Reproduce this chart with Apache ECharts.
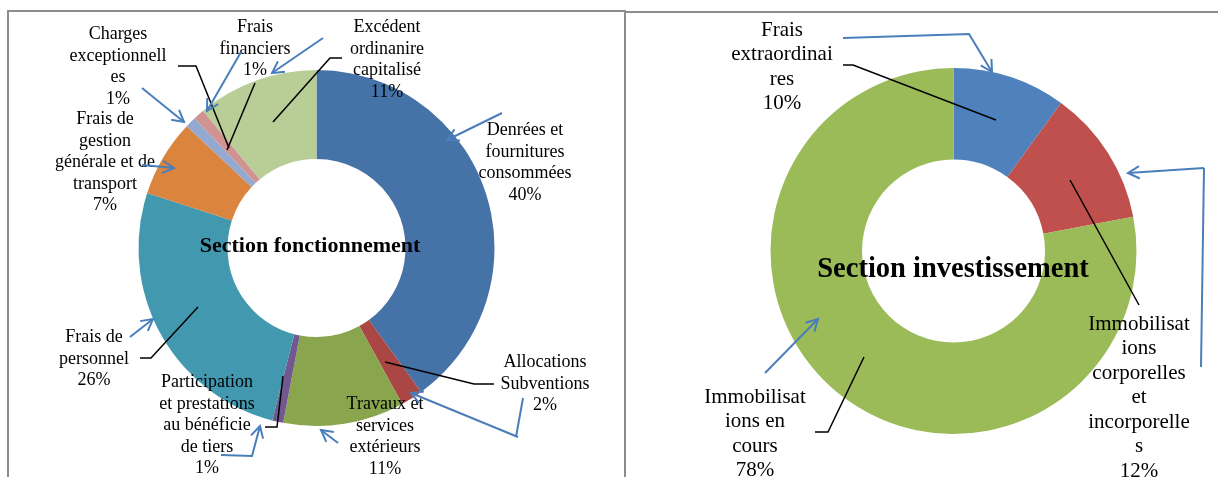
<!DOCTYPE html>
<html>
<head>
<meta charset="utf-8">
<script src="https://cdn.jsdelivr.net/npm/echarts@6/dist/echarts.min.js"></script>
<style>
  html, body { margin: 0; padding: 0; background: #fff; }
  #chart { width: 1218px; height: 477px; }
</style>
</head>
<body>
<div id="chart"></div>
<script>
// section fonctionnement (clockwise from 12 o'clock)
const fonctNames = ['Denrées et fournitures consommées', 'Allocations Subventions', 'Travaux et services extérieurs',
  'Participation et prestations au bénéficie de tiers', 'Frais de personnel',
  'Frais de gestion générale et de transport', 'Charges exceptionnelles', 'Frais financiers',
  'Excédent ordinanire capitalisé']
const fonctValues = [40, 2, 11, 1, 26, 7, 1, 1, 11]
// label text as wrapped in the original
const fonctLabels = ['Denrées et\nfournitures\nconsommées', 'Allocations\nSubventions', 'Travaux et\nservices\nextérieurs',
  'Participation\net prestations\nau bénéficie\nde tiers', 'Frais de\npersonnel',
  'Frais de\ngestion\ngénérale et de\ntransport', 'Charges\nexceptionnell\nes', 'Frais\nfinanciers',
  'Excédent\nordinanire\ncapitalisé']

// section investissement
const investNames = ['Frais extraordinaires', 'Immobilisations corporelles et incorporelles', 'Immobilisations en cours']
const investValues = [10, 12, 78]
const investLabels = ['Frais\nextraordinai\nres', 'Immobilisat\nions\ncorporelles\net\nincorporelle\ns', 'Immobilisat\nions en\ncours']

const fonctColors = ['#4572A7', '#AA4643', '#89A54E', '#71588F', '#4198AF', '#DB843D', '#93A9CF', '#D19392', '#B9CD96']
const investColors = ['#4F81BD', '#C0504D', '#9BBB59']

// where each label block sits (center x, top y)
const fonctLabelPos = [[525, 120], [545, 352], [385, 394], [207, 372], [94, 327], [105, 109], [118, 24], [255, 17], [387, 17]]
const investLabelPos = [[782, 18], [1139, 312], [755, 385]]

// black leader lines
const leaderLines = [
  [[178, 66], [196, 66], [229, 148]],
  [[255, 83], [227, 150]],
  [[342, 58], [330, 58], [273, 122]],
  [[140, 358], [151, 358], [198, 307]],
  [[265, 427], [277, 427], [283, 376]],
  [[494, 384], [474, 384], [385, 362]],
  [[843, 65], [853, 65], [996, 120]],
  [[1070, 180], [1139, 305]],
  [[815, 432], [828, 432], [864, 357]]
]
// hand drawn blue arrows (head at last point)
const arrows = [
  [[323, 38], [272, 73]],
  [[241, 52], [207, 111]],
  [[142, 88], [184, 122]],
  [[142, 165], [174, 168]],
  [[502, 113], [447, 140]],
  [[130, 337], [153, 319]],
  [[221, 455], [252, 456], [260, 426]],
  [[338, 443], [321, 430]],
  [[518, 437], [411, 393]],
  [[843, 38], [969, 34], [992, 72]],
  [[1204, 168], [1128, 173]],
  [[765, 373], [818, 319]]
]
const plainBlue = [
  [[523, 398], [516, 437]],
  [[1204, 168], [1201, 367]]
]

const chart = echarts.init(document.getElementById('chart'))

function arrowHead(pts) {
  const a = pts[pts.length - 2]
  const b = pts[pts.length - 1]
  const ang = Math.atan2(b[1] - a[1], b[0] - a[0])
  const len = 13
  const p1 = [b[0] - len * Math.cos(ang - 0.5), b[1] - len * Math.sin(ang - 0.5)]
  const p2 = [b[0] - len * Math.cos(ang + 0.5), b[1] - len * Math.sin(ang + 0.5)]
  return [p1, b, p2]
}

const graphics = [
  { type: 'rect', shape: { x: 8, y: 11, width: 617, height: 500 }, style: { fill: 'none', stroke: '#8c8c8c', lineWidth: 2 }, silent: true },
  { type: 'rect', shape: { x: 625, y: 12, width: 620, height: 500 }, style: { fill: 'none', stroke: '#8c8c8c', lineWidth: 2 }, silent: true },
  { type: 'text', x: 310, y: 246, z: 10, style: { text: 'Section fonctionnement', font: 'bold 22px "Liberation Serif"', fill: '#000', textAlign: 'center', textVerticalAlign: 'middle' } },
  { type: 'text', x: 953, y: 270, z: 10, style: { text: 'Section investissement', font: 'bold 28.5px "Liberation Serif"', fill: '#000', textAlign: 'center', textVerticalAlign: 'middle' } }
]
leaderLines.forEach(function (pts) {
  graphics.push({ type: 'polyline', z: 10, shape: { points: pts }, style: { stroke: '#000', lineWidth: 1.5, fill: 'none' } })
})
arrows.forEach(function (pts) {
  graphics.push({ type: 'polyline', z: 10, shape: { points: pts }, style: { stroke: '#4A7EBB', lineWidth: 2, fill: 'none' } })
  graphics.push({ type: 'polyline', z: 10, shape: { points: arrowHead(pts) }, style: { stroke: '#4A7EBB', lineWidth: 2, fill: 'none' } })
})
plainBlue.forEach(function (pts) {
  graphics.push({ type: 'polyline', z: 10, shape: { points: pts }, style: { stroke: '#4A7EBB', lineWidth: 2, fill: 'none' } })
})

chart.setOption({
  animation: false,
  graphic: graphics,
  series: [
    {
      name: 'Section fonctionnement',
      type: 'pie',
      center: [316.5, 248],
      radius: [89, 178],
      startAngle: 90,
      clockwise: true,
      avoidLabelOverlap: false,
      color: fonctColors,
      label: {
        show: true,
        position: 'outside',
        fontFamily: 'Liberation Serif',
        fontSize: 18,
        lineHeight: 21.5,
        color: '#000',
        align: 'center',
        formatter: function (p) {
          return fonctLabels[p.dataIndex] + '\n' + Math.round(p.percent) + '%'
        }
      },
      labelLine: { show: false },
      labelLayout: function (p) {
        const pos = fonctLabelPos[p.dataIndex]
        return { x: pos[0], y: pos[1], align: 'center', verticalAlign: 'top' }
      },
      emphasis: { disabled: true },
      data: fonctNames.map(function (n, i) { return { name: n, value: fonctValues[i] } })
    },
    {
      name: 'Section investissement',
      type: 'pie',
      center: [953.5, 251],
      radius: [91.5, 183],
      startAngle: 90,
      clockwise: true,
      avoidLabelOverlap: false,
      color: investColors,
      label: {
        show: true,
        position: 'outside',
        fontFamily: 'Liberation Serif',
        fontSize: 21,
        lineHeight: 24.5,
        color: '#000',
        align: 'center',
        formatter: function (p) {
          return investLabels[p.dataIndex] + '\n' + Math.round(p.percent) + '%'
        }
      },
      labelLine: { show: false },
      labelLayout: function (p) {
        const pos = investLabelPos[p.dataIndex]
        return { x: pos[0], y: pos[1], align: 'center', verticalAlign: 'top' }
      },
      emphasis: { disabled: true },
      data: investNames.map(function (n, i) { return { name: n, value: investValues[i] } })
    }
  ]
})

window.addEventListener('resize', function () {
  chart.resize()
})
</script>
</body>
</html>
